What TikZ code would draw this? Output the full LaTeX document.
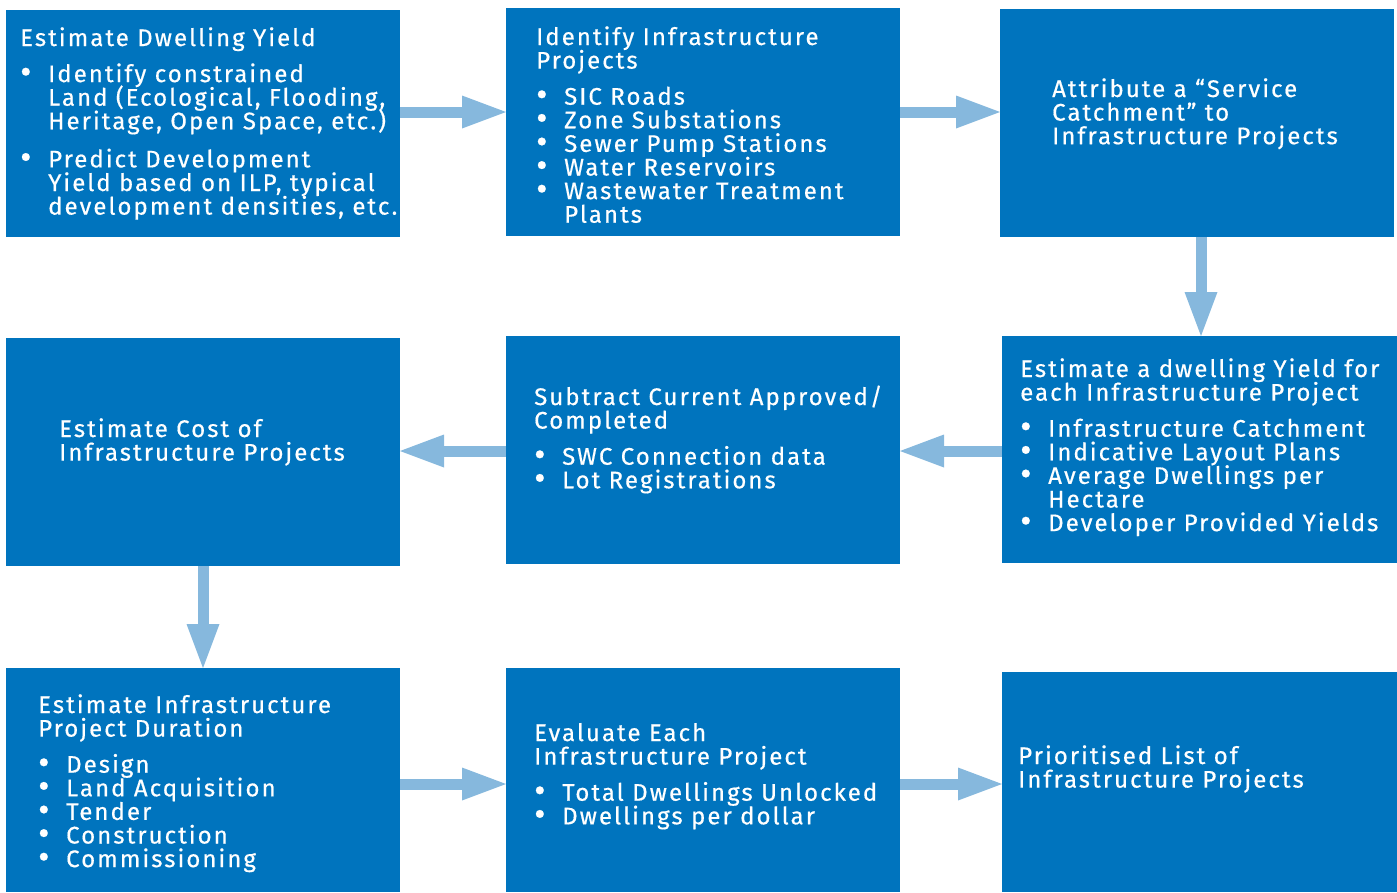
\documentclass[tikz,border=0pt]{standalone}
\usepackage{graphicx}
\usepackage{fontspec}
\setmainfont{Fira Sans}[LetterSpace=8.5,FakeBold=0.5]
\usetikzlibrary{arrows.meta}
\definecolor{boxblue}{RGB}{0,116,190}
\definecolor{flowblue}{RGB}{134,184,221}
% bullet item and its continuation lines
\newcommand{\bulletmark}{\raisebox{-1.5pt}{\scalebox{1.45}{\textbullet}}}
\newcommand{\itm}[1]{\makebox[28pt][l]{\bulletmark}#1}
\newcommand{\cont}[1]{\hspace*{28pt}#1}
% fixed line pitch, even for lines with tall glyphs
\newcommand{\txt}[1]{\parbox[t]{390pt}{\raggedright\fontsize{24}{23.6}\selectfont
  \lineskiplimit=-100pt #1}}
\begin{document}
\begin{tikzpicture}[x=1pt,y=-1pt,
  stepbox/.style={fill=boxblue,draw=none,inner sep=0pt,outer sep=0pt,anchor=north west},
  label/.style={anchor=base west,inner sep=0pt,text=white},
  flow/.style={draw=flowblue,line width=11pt,line cap=butt,
    -{Triangle[length=44pt 0,width=33pt 0,line width=0pt 0]}}]
\useasboundingbox (0,0) rectangle (1397,892);
% boxes
\node[stepbox,minimum width=394pt,minimum height=227pt] (A) at (6,10) {};
\node[stepbox,minimum width=394pt,minimum height=228pt] (B) at (506,8) {};
\node[stepbox,minimum width=394pt,minimum height=228pt] (C) at (1000,9) {};
\node[stepbox,minimum width=394pt,minimum height=228pt] (D) at (6,338) {};
\node[stepbox,minimum width=394pt,minimum height=228pt] (E) at (506,336) {};
\node[stepbox,minimum width=395pt,minimum height=227pt] (F) at (1002,336) {};
\node[stepbox,minimum width=394pt,minimum height=224pt] (G) at (6,668) {};
\node[stepbox,minimum width=394pt,minimum height=224pt] (H) at (506,668) {};
\node[stepbox,minimum width=395pt,minimum height=220pt] (I) at (1002,672) {};
% texts
\node[label] (tA) at (20,46) {\txt{Estimate Dwelling Yield\\[12.5pt]
  \itm{Identify constrained}\\\cont{Land (Ecological, Flooding,}\\\cont{Heritage, Open Space, etc.)}\\[14.5pt]
  \itm{Predict Development}\\\cont{Yield based on ILP, typical}\\\cont{development densities, etc.}}};
\node[label] (tB) at (536,45) {\txt{Identify Infrastructure\\Projects\\[12.5pt]
  \itm{SIC Roads}\\\itm{Zone Substations}\\\itm{Sewer Pump Stations}\\\itm{Water Reservoirs}\\
  \itm{Wastewater Treatment}\\\cont{Plants}}};
\node[label] (tC) at (1052,97) {\txt{Attribute a “Service\\Catchment” to\\Infrastructure Projects}};
\node[label] (tD) at (59,437) {\txt{Estimate Cost of\\Infrastructure Projects}};
\node[label] (tE) at (534,405) {\txt{Subtract Current Approved/\\Completed\\[12.5pt]
  \itm{SWC Connection data}\\\itm{Lot Registrations}}};
\node[label] (tF) at (1020,377) {\txt{Estimate a dwelling Yield for\\each Infrastructure Project\\[12.5pt]
  \itm{Infrastructure Catchment}\\\itm{Indicative Layout Plans}\\\itm{Average Dwellings per}\\\cont{Hectare}\\
  \itm{Developer Provided Yields}}};
\node[label] (tG) at (38,713) {\txt{Estimate Infrastructure\\Project Duration\\[12.5pt]
  \itm{Design}\\\itm{Land Acquisition}\\\itm{Tender}\\\itm{Construction}\\\itm{Commissioning}}};
\node[label] (tH) at (534,741) {\txt{Evaluate Each\\Infrastructure Project\\[12.5pt]
  \itm{Total Dwellings Unlocked}\\\itm{Dwellings per dollar}}};
\node[label] (tI) at (1018,764) {\txt{Prioritised List of\\Infrastructure Projects}};
% connectors
\draw[flow] (A.east |- 0,112) -- (B.west |- 0,112);
\draw[flow] (B.east |- 0,112) -- (C.west |- 0,112);
\draw[flow] (C.south -| 1201,0) -- (F.north -| 1201,0);
\draw[flow] (F.west |- 0,451) -- (E.east |- 0,451);
\draw[flow] (E.west |- 0,451) -- (D.east |- 0,451);
\draw[flow] (D.south -| 203,0) -- (G.north -| 203,0);
\draw[flow] (G.east |- 0,784) -- (H.west |- 0,784);
\draw[flow] (H.east |- 0,784) -- (I.west |- 0,784);
\end{tikzpicture}
\end{document}
